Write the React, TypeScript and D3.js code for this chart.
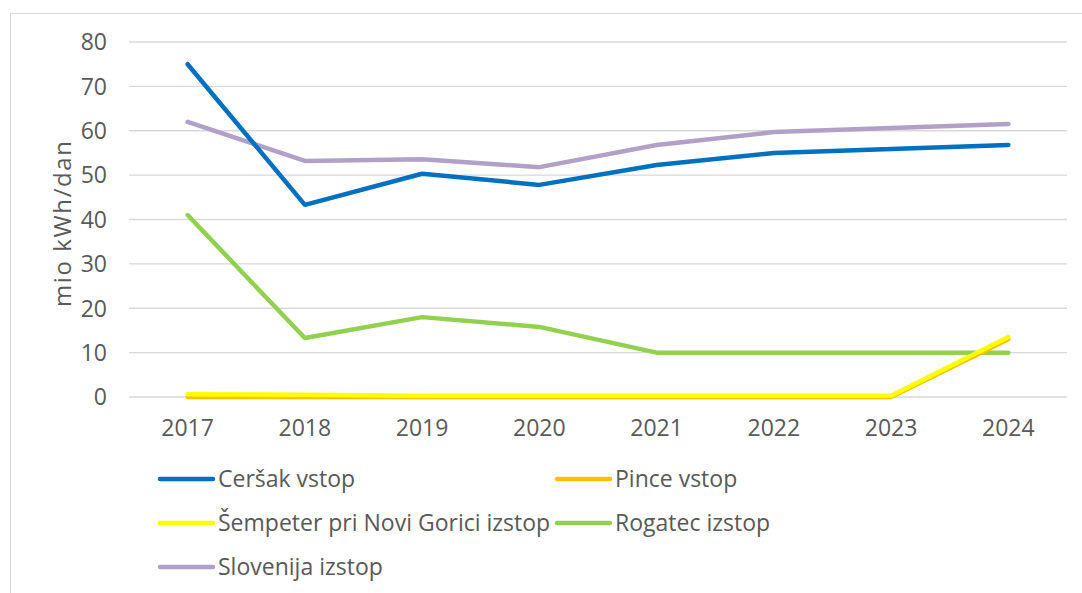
import React from "react";
import * as d3 from "d3";

const years = ["2017", "2018", "2019", "2020", "2021", "2022", "2023", "2024"];
const cersak = [75, 43.3, 50.3, 47.8, 52.3, 55, 55.9, 56.8];
const pince = [0, 0, 0, 0, 0, 0, 0, 13];
const sempeter = [0.6, 0.5, 0.3, 0.3, 0.3, 0.3, 0.3, 13.5];
const rogatec = [41, 13.3, 18, 15.8, 10, 10, 10, 10];
const slovenija = [62, 53.2, 53.6, 51.8, 56.8, 59.7, 60.6, 61.5];
const yTicks = [0, 10, 20, 30, 40, 50, 60, 70, 80];

const series = [
  { name: "Ceršak vstop", values: cersak, color: "#0070C0" },
  { name: "Pince vstop", values: pince, color: "#FFC000" },
  { name: "Šempeter pri Novi Gorici izstop", values: sempeter, color: "#FFFF00" },
  { name: "Rogatec izstop", values: rogatec, color: "#92D050" },
  { name: "Slovenija izstop", values: slovenija, color: "#B1A0C7" },
];

const drawOrder = [4, 0, 3, 1, 2];

export default function App() {
  const W = 1082, H = 593;
  const left = 129, right = 1067, top = 42, bottom = 397;
  const x = d3.scaleBand<string>().domain(years).range([left, right]);
  const y = d3.scaleLinear().domain([0, 80]).range([bottom, top]);
  const line = d3
    .line<number>()
    .x((_, i) => (x(years[i]) as number) + x.bandwidth() / 2)
    .y((d) => y(d));
  const font = "'Open Sans', sans-serif";
  const txt = "#595959";
  const fs = 23;
  const legendPos = [
    { x: 160, y: 479 },
    { x: 557, y: 479 },
    { x: 160, y: 523 },
    { x: 557, y: 523 },
    { x: 160, y: 567 },
  ];
  return (
    <svg
      width={W}
      height={H}
      style={{ position: "absolute", left: 0, top: 0, background: "#fff" }}
      fontFamily={font}
    >
      <rect x={10.5} y={13.5} width={1100} height={600} fill="#fff" stroke="#d9d9d9" strokeWidth={1} />
      {yTicks.map((t) => (
        <g key={t}>
          <line x1={left} x2={right} y1={y(t)} y2={y(t)} stroke="#d9d9d9" strokeWidth={1.3} />
          <text x={107} y={y(t)} dy="0.36em" textAnchor="end" fontSize={fs} fill={txt}>
            {t}
          </text>
        </g>
      ))}
      {years.map((yr) => (
        <text
          key={yr}
          x={(x(yr) as number) + x.bandwidth() / 2}
          y={428}
          dy="0.36em"
          textAnchor="middle"
          fontSize={fs}
          fill={txt}
        >
          {yr}
        </text>
      ))}
      <text
        transform={`translate(62,224) rotate(-90)`}
        textAnchor="middle"
        dy="0.36em"
        fontSize={24}
        fill={txt}
        textLength={166}
        lengthAdjust="spacing"
      >
        mio kWh/dan
      </text>
      {drawOrder.map((i) => (
        <path
          key={series[i].name}
          d={line(series[i].values) as string}
          fill="none"
          stroke={series[i].color}
          strokeWidth={4.5}
          strokeLinecap="round"
          strokeLinejoin="round"
        />
      ))}
      {series.map((s, i) => (
        <g key={s.name}>
          <line
            x1={legendPos[i].x}
            x2={legendPos[i].x + 53}
            y1={legendPos[i].y}
            y2={legendPos[i].y}
            stroke={s.color}
            strokeWidth={4.5}
            strokeLinecap="round"
          />
          <text x={legendPos[i].x + 58} y={legendPos[i].y} dy="0.36em" fontSize={fs} fill={txt}>
            {s.name}
          </text>
        </g>
      ))}
    </svg>
  );
}
